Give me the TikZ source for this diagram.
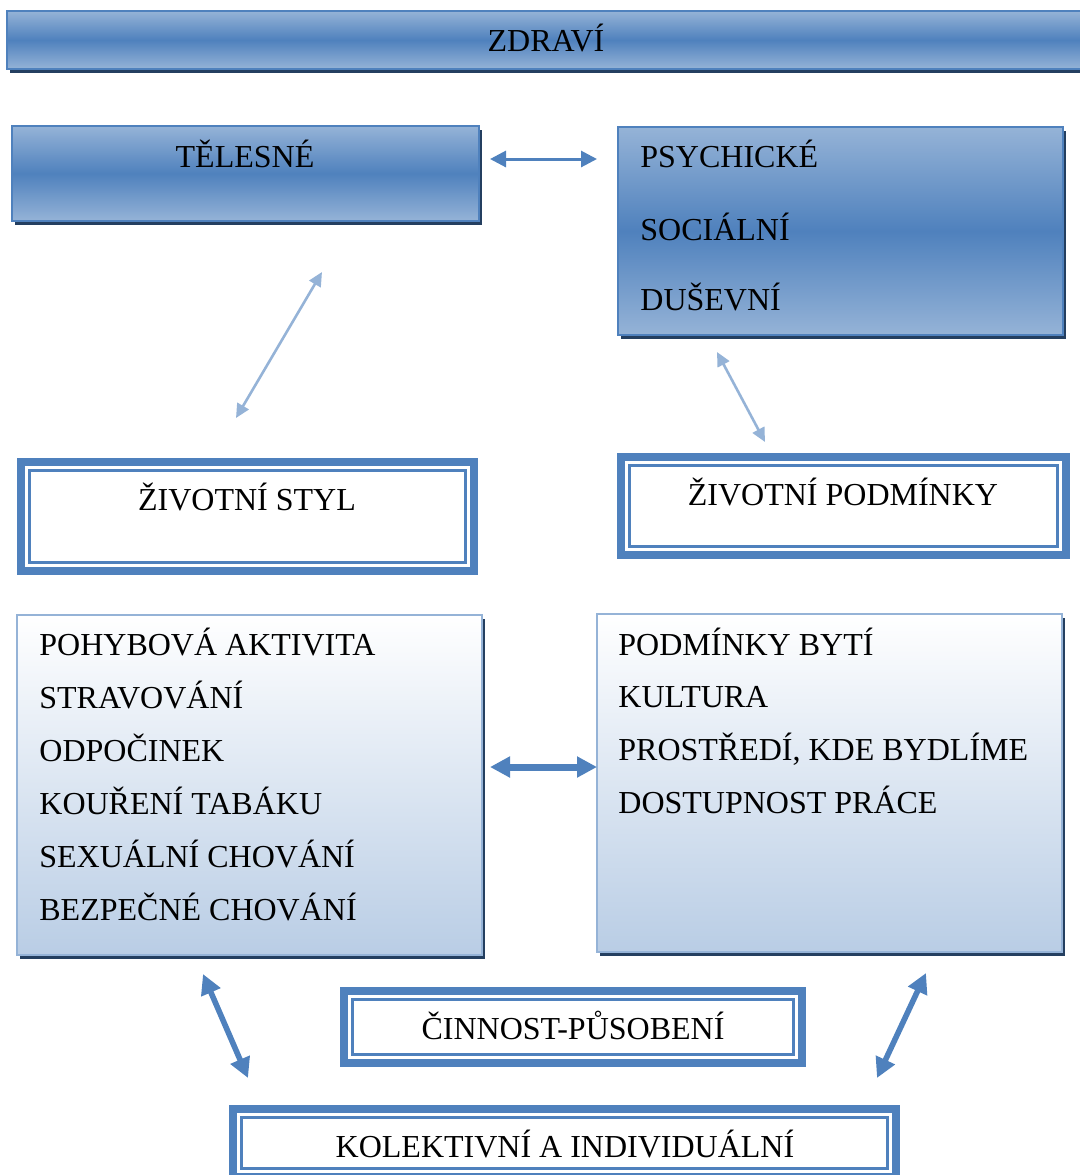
\documentclass[tikz,border=0pt]{standalone}
\usepackage{fontspec}
\setmainfont{Liberation Serif}
\usetikzlibrary{arrows.meta,fit,shadows}
\definecolor{bM}{HTML}{4F81BD}
\definecolor{bL}{HTML}{95B3D7}
\definecolor{bD}{HTML}{243F60}
\definecolor{bP}{HTML}{B9CDE5}
\begin{document}
\begin{tikzpicture}[x=0.5pt,y=-0.5pt,
  shd/.style={drop shadow={opacity=1,fill=bD,shadow xshift=1.6pt,shadow yshift=-2pt}},
  gbox/.style={draw=bM,line width=1pt,top color=bL,bottom color=bL,middle color=bM,inner sep=0pt,outer sep=0pt,shd},
  lbox/.style={draw=bL,line width=1.1pt,top color=white,bottom color=bP,inner sep=0pt,outer sep=0pt,shd},
  dbox/.style={draw=bM,line width=4pt,fill=white,inner sep=0pt,outer sep=0pt},
  inl/.style={draw=bM,line width=1.3pt},
  txt/.style={font=\fontsize{16}{19}\selectfont,inner sep=0pt,text=black},
  arrS/.style={draw=bM,line width=1.5pt,{Triangle[length=8pt,width=8pt]}-{Triangle[length=8pt,width=8pt]}},
  arrT/.style={draw=bL,line width=1.3pt,{Triangle[length=7pt,width=6.5pt]}-{Triangle[length=7pt,width=6.5pt]}},
  arrB/.style={draw=bM,line width=3.5pt,{Triangle[length=10pt,width=10pt]}-{Triangle[length=10pt,width=10pt]}},
  arrD/.style={draw=bM,line width=2.8pt,{Triangle[length=10pt,width=10pt]}-{Triangle[length=10pt,width=10pt]}}
]
\useasboundingbox (0,0) rectangle (1080,1175);
\clip (0,0) rectangle (1080,1175);

% ZDRAVI banner
\node[gbox,fit={(7,11)(1100,69)}] (zdr) {};
\node[txt,anchor=base] (zdrT) at (546,51) {ZDRAVÍ};

% TELESNE
\node[gbox,fit={(12,126)(479,221)}] (tel) {};
\node[txt,anchor=base] (telT) at (245,167) {TĚLESNÉ};

% PSYCHICKE
\node[gbox,fit={(618,127)(1063,335)}] (psy) {};
\node[txt,anchor=base west] (psy1) at (640,167) {PSYCHICKÉ};
\node[txt,anchor=base west] (psy2) at (640,240) {SOCIÁLNÍ};
\node[txt,anchor=base west] (psy3) at (640,310) {DUŠEVNÍ};

% ZIVOTNI STYL
\node[dbox,fit={(21,462)(474,571)}] (sty) {};
\draw[inl] ([shift={(8.5,8.5)}]sty.north west) rectangle ([shift={(-8.5,-8.5)}]sty.south east);
\node[txt,anchor=base] (styT) at (247,510) {ŽIVOTNÍ STYL};

% ZIVOTNI PODMINKY
\node[dbox,fit={(621,457)(1066,555)}] (pod) {};
\draw[inl] ([shift={(8.5,8.5)}]pod.north west) rectangle ([shift={(-8.5,-8.5)}]pod.south east);
\node[txt,anchor=base] (podT) at (843,505) {ŽIVOTNÍ PODMÍNKY};

% left list
\node[lbox,fit={(17,615)(482,955)}] (ll) {};
\node[txt,anchor=base west] (l1) at (39,655) {POHYBOVÁ AKTIVITA};
\node[txt,anchor=base west] (l2) at (39,708) {STRAVOVÁNÍ};
\node[txt,anchor=base west] (l3) at (39,761) {ODPOČINEK};
\node[txt,anchor=base west] (l4) at (39,814) {KOUŘENÍ TABÁKU};
\node[txt,anchor=base west] (l5) at (39,867) {SEXUÁLNÍ CHOVÁNÍ};
\node[txt,anchor=base west] (l6) at (39,920) {BEZPEČNÉ CHOVÁNÍ};

% right list
\node[lbox,fit={(597,614)(1062,952)}] (rl) {};
\node[txt,anchor=base west] (r1) at (618,655) {PODMÍNKY BYTÍ};
\node[txt,anchor=base west] (r2) at (618,707) {KULTURA};
\node[txt,anchor=base west] (r3) at (618,760) {PROSTŘEDÍ, KDE BYDLÍME};
\node[txt,anchor=base west] (r4) at (618,813) {DOSTUPNOST PRÁCE};

% CINNOST
\node[dbox,fit={(344,991)(802,1063)}] (cin) {};
\draw[inl] ([shift={(8.5,8.5)}]cin.north west) rectangle ([shift={(-8.5,-8.5)}]cin.south east);
\node[txt,anchor=base] (cinT) at (573,1039) {ČINNOST-PŮSOBENÍ};

% KOLEKTIVNI
\node[dbox,fit={(233,1109)(896,1177)}] (kol) {};
\draw[inl] ([shift={(8.5,8.5)}]kol.north west) rectangle ([shift={(-8.5,-8.5)}]kol.south east);
\node[txt,anchor=base] (kolT) at (565,1157) {KOLEKTIVNÍ A INDIVIDUÁLNÍ};

% arrow end points
\coordinate (a1) at (490,159);
\coordinate (a2) at (597,159);
\coordinate (b1) at (322,272);
\coordinate (b2) at (236,418);
\coordinate (c1) at (717,352);
\coordinate (c2) at (765,442);
\coordinate (d1) at (490,767);
\coordinate (d2) at (597,767);
\coordinate (e1) at (203,974);
\coordinate (e2) at (248,1078);
\coordinate (f1) at (926,973);
\coordinate (f2) at (877,1078);

\draw[arrS] (a1) -- (a2);
\draw[arrT] (b1) -- (b2);
\draw[arrT] (c1) -- (c2);
\draw[arrB] (d1) -- (d2);
\draw[arrD] (e1) -- (e2);
\draw[arrD] (f1) -- (f2);
\end{tikzpicture}
\end{document}
